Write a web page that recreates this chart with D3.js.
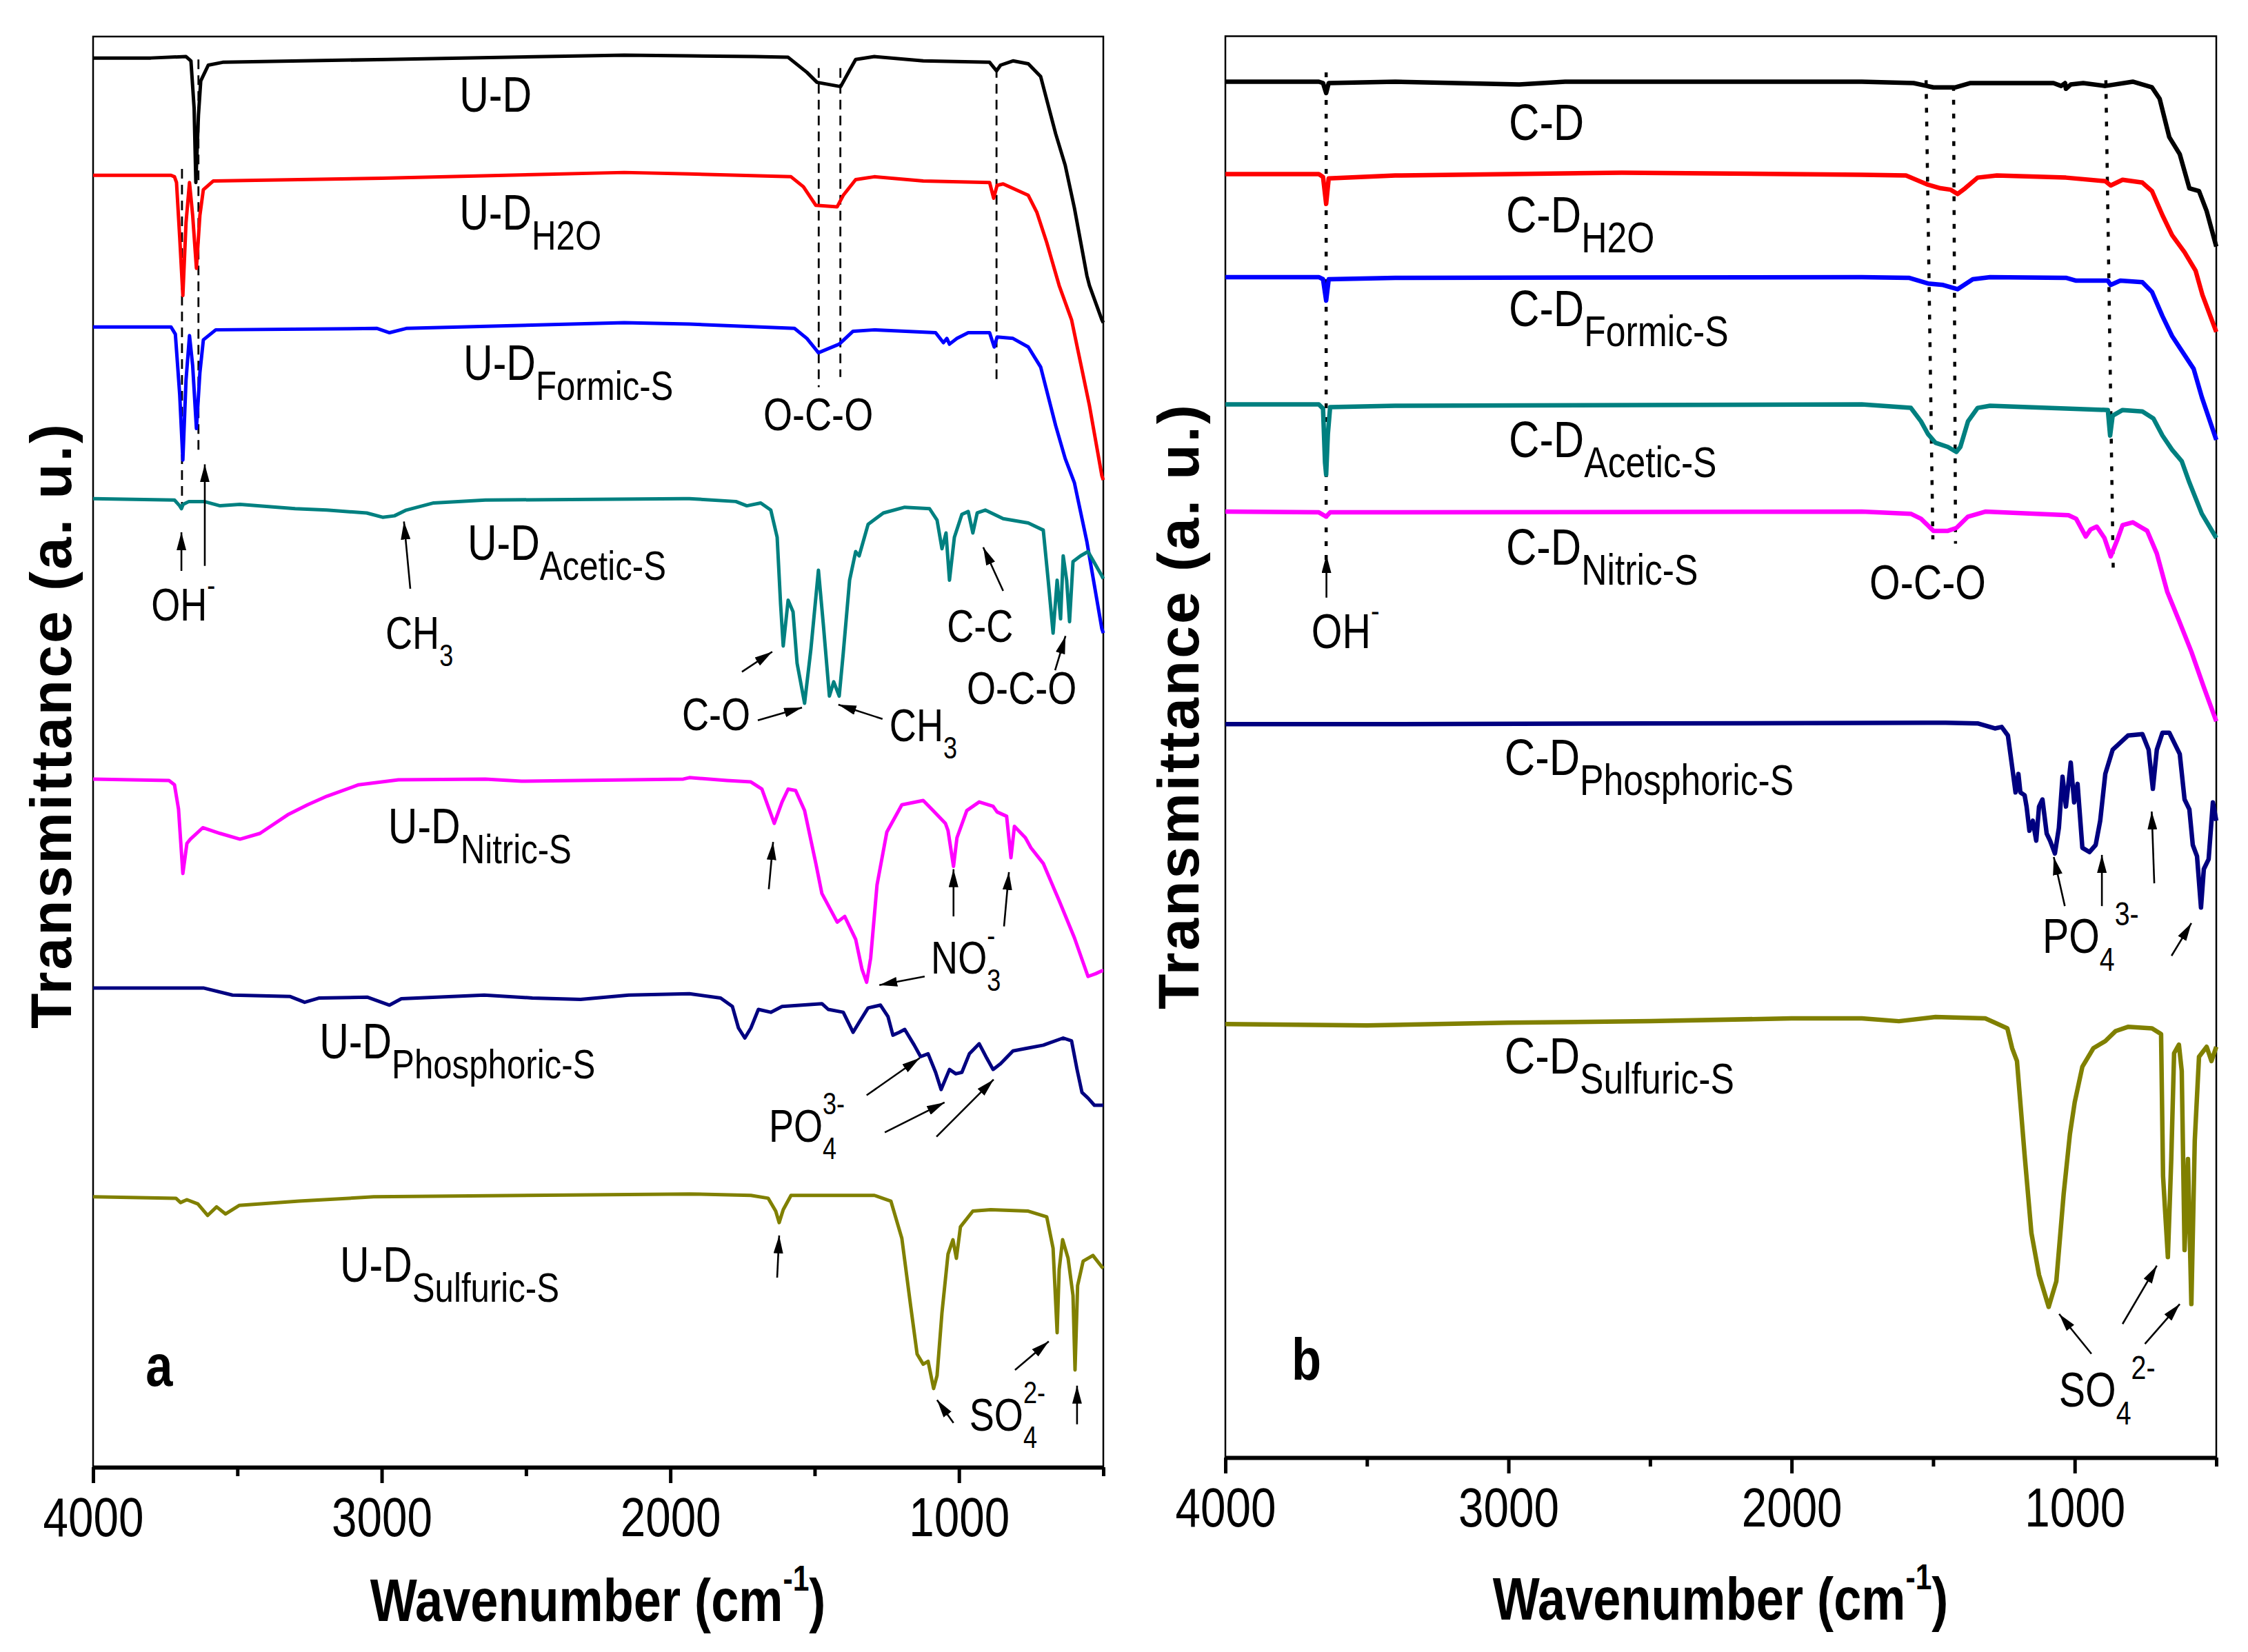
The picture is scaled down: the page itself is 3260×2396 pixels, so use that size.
<!DOCTYPE html>
<html>
<head>
<meta charset="utf-8">
<script src="https://cdn.jsdelivr.net/npm/d3@7"></script>
<style>
  body { margin: 0; background: #fff; }
</style>
</head>
<body>
<svg id="chart" width="3260" height="2396"></svg>
<script>
const FONT = '"Liberation Sans", Arial, sans-serif';
const NARROW = 0.82; // Arial Narrow look

const majorTicks = [4000, 3000, 2000, 1000];
const minorTicks = [3500, 2500, 1500, 500];
const seriesColors = ["#000000", "#ff0000", "#0000ff", "#008080", "#ff00ff", "#000080", "#808000"];
const subNames = ["", "H2O", "Formic-S", "Acetic-S", "Nitric-S", "Phosphoric-S", "Sulfuric-S"];

// ---- panel a : U-D samples, [wavenumber, transmittance a.u.] ----
const uDry = [[4000,98.5],[3800,98.5],[3678,98.6],[3661,98.3],[3650,95],[3644,89.8],[3635,94.5],[3627,96.9],[3601,98.0],[3551,98.2],[2982,98.4],[2160,98.7],[1934,98.65],[1709,98.6],[1592,98.55],[1527,97.5],[1492,96.8],[1410,96.5],[1380,97.6],[1358,98.4],[1293,98.6],[1124,98.3],[894,98.2],[870,97.6],[856,98.0],[813,98.3],[760,98.1],[717,97.2],[665,93.2],[632,91.0],[600,88.0],[557,83.3],[548,82.6],[505,80.2],[500,80.0]];
const uH2O = [[4000,90.3],[3730,90.3],[3718,90.2],[3711,89.8],[3700,86],[3689,81.9],[3678,87],[3666,89.8],[3655,87.5],[3642,83.8],[3630,87.5],[3618,89.3],[3584,89.9],[3000,90.1],[2160,90.5],[1934,90.4],[1582,90.2],[1539,89.5],[1496,88.2],[1422,88.1],[1401,88.9],[1358,90.0],[1293,90.2],[1124,89.9],[894,89.8],[880,88.7],[868,89.6],[847,89.7],[760,88.9],[730,87.7],[696,85.6],[653,82.6],[610,80.2],[579,77.2],[548,74.2],[505,69.3],[500,69.0]];
const uFormic = [[4000,79.7],[3730,79.7],[3715,79.2],[3700,75],[3689,70.4],[3678,76],[3666,79.1],[3655,77],[3642,72.6],[3630,76.5],[3618,78.8],[3575,79.5],[3016,79.6],[2973,79.3],[2915,79.6],[2160,80.0],[1934,79.9],[1570,79.6],[1527,78.9],[1487,77.9],[1415,78.5],[1367,79.4],[1293,79.5],[1081,79.3],[1054,78.6],[1042,78.9],[1033,78.5],[1007,78.9],[968,79.3],[894,79.3],[878,78.3],[868,79.0],[813,78.9],[760,78.3],[717,76.9],[665,72.8],[632,70.5],[600,68.8],[557,64.7],[505,58.6],[500,58.3]];
const uAcetic = [[4000,67.7],[3718,67.6],[3700,67.2],[3694,67.0],[3688,67.3],[3668,67.5],[3615,67.5],[3560,67.2],[3491,67.3],[3300,67.0],[3190,66.9],[3052,66.7],[2997,66.4],[2956,66.5],[2915,66.9],[2820,67.4],[2641,67.6],[1955,67.7],[1934,67.7],[1773,67.5],[1735,67.2],[1687,67.4],[1652,66.9],[1630,65.0],[1618,60.3],[1609,57.4],[1592,60.6],[1575,59.8],[1561,56.2],[1535,53.4],[1513,57.2],[1487,62.7],[1470,58.9],[1449,53.9],[1434,54.9],[1415,53.9],[1401,56.9],[1379,62.0],[1358,64.0],[1346,63.7],[1315,65.9],[1262,66.7],[1188,67.1],[1102,67.0],[1076,66.2],[1059,64.2],[1045,65.3],[1033,62.0],[1016,65.0],[990,66.6],[968,66.8],[952,65.3],[937,66.7],[909,66.9],[847,66.3],[760,66.0],[708,65.5],[691,62.0],[674,58.3],[660,62.0],[648,59.3],[639,63.7],[627,62.0],[617,59.1],[605,63.3],[579,63.7],[553,64.0],[505,62.3],[500,62.1]];
const uNitric = [[4000,48.1],[3737,48.0],[3718,47.7],[3704,46.0],[3689,41.5],[3675,43.6],[3663,43.9],[3620,44.7],[3560,44.3],[3491,43.9],[3422,44.3],[3326,45.6],[3257,46.3],[3190,46.9],[3080,47.7],[2942,48.05],[2641,48.1],[2516,47.95],[1955,48.1],[1934,48.2],[1804,48.0],[1721,47.9],[1683,47.4],[1640,45.0],[1613,46.5],[1592,47.4],[1566,47.3],[1535,45.9],[1496,42.2],[1475,40.1],[1422,38.1],[1396,38.5],[1358,36.9],[1336,34.8],[1320,33.9],[1306,35.6],[1284,40.7],[1250,44.4],[1198,46.3],[1124,46.6],[1090,45.9],[1047,45.0],[1038,44.5],[1019,42.0],[1007,44.0],[973,45.9],[930,46.5],[882,46.2],[868,45.8],[835,45.5],[820,42.6],[808,44.8],[770,44.0],[751,43.3],[708,42.2],[653,39.6],[600,37.0],[553,34.3],[526,34.5],[505,34.7],[500,34.7]];
const uPhosphoric = [[4000,33.5],[3618,33.5],[3517,33.0],[3317,32.9],[3267,32.5],[3216,32.8],[3049,32.85],[2973,32.3],[2932,32.75],[2645,33.0],[2478,32.8],[2311,32.7],[2144,33.0],[1934,33.1],[1826,32.8],[1785,32.2],[1764,30.7],[1742,30.0],[1721,30.7],[1695,32.0],[1652,31.8],[1613,32.2],[1475,32.4],[1453,32.0],[1401,31.8],[1367,30.4],[1346,31.1],[1315,32.1],[1272,32.3],[1246,31.5],[1229,30.2],[1207,30.4],[1188,30.6],[1155,29.5],[1133,28.7],[1107,28.9],[1081,27.6],[1062,26.4],[1033,27.8],[1011,27.5],[990,27.6],[964,28.9],[930,29.6],[904,28.6],[882,27.8],[856,28.2],[813,29.1],[760,29.3],[708,29.5],[639,30.0],[610,29.8],[591,27.8],[574,26.2],[553,25.8],[531,25.3],[500,25.3]];
const uSulfuric = [[4000,18.9],[3713,18.8],[3697,18.5],[3675,18.7],[3637,18.4],[3603,17.6],[3572,18.2],[3541,17.7],[3494,18.3],[3286,18.6],[3028,18.9],[1934,19.1],[1721,19.0],[1661,18.8],[1635,17.9],[1623,17.1],[1609,18.0],[1582,19.0],[1293,19.0],[1236,18.6],[1198,16.0],[1167,11.2],[1145,7.9],[1124,7.2],[1107,7.4],[1088,5.5],[1076,6.4],[1059,10.8],[1038,14.9],[1021,15.9],[1009,14.6],[995,16.8],[952,17.9],[890,18.0],[760,17.9],[696,17.5],[674,15.3],[660,9.4],[653,13.8],[641,15.9],[622,14.6],[605,12.0],[598,6.8],[589,12.7],[570,14.4],[536,14.8],[505,14.0],[500,13.9]];

// ---- panel b : C-D samples ----
const cDry = [[4000,96.8],[3670,96.8],[3655,96.7],[3644,96.0],[3635,96.7],[3400,96.8],[2962,96.6],[2800,96.8],[1752,96.8],[1569,96.7],[1499,96.4],[1421,96.4],[1370,96.7],[1075,96.7],[1048,96.5],[1034,96.7],[1031,96.3],[1014,96.6],[970,96.7],[892,96.5],[795,96.8],[727,96.4],[700,95.6],[666,92.9],[629,91.7],[595,89.3],[561,89.1],[534,87.7],[500,85.2]];
const cH2O = [[4000,90.3],[3670,90.3],[3655,90.1],[3644,88.2],[3635,90.0],[3400,90.2],[2600,90.4],[1752,90.25],[1596,90.2],[1518,89.55],[1474,89.3],[1438,89.2],[1414,88.9],[1387,89.3],[1343,90.05],[1275,90.2],[1031,90.05],[892,89.8],[873,89.5],[831,89.9],[761,89.7],[727,89.1],[690,87.4],[656,86.0],[612,84.8],[573,83.5],[549,81.8],[500,79.2]];
const cFormic = [[4000,83.05],[3670,83.05],[3655,82.9],[3644,81.4],[3635,82.9],[3400,83.0],[1752,83.05],[1586,83.0],[1518,82.6],[1465,82.5],[1414,82.2],[1360,82.9],[1299,83.05],[1031,83.0],[995,82.8],[883,82.8],[873,82.5],[839,82.8],[761,82.7],[727,82.0],[690,80.3],[656,78.9],[580,76.6],[551,74.6],[500,71.6]];
const cAcetic = [[4000,74.1],[3670,74.1],[3655,73.8],[3648,70],[3644,69.15],[3638,72],[3630,73.9],[3400,74.0],[1752,74.1],[1579,73.85],[1543,72.9],[1518,72.0],[1492,71.4],[1448,71.1],[1418,70.75],[1404,71.1],[1377,72.9],[1343,73.85],[1299,74.0],[883,73.7],[875,71.9],[866,73.3],[831,73.7],[761,73.6],[722,73.1],[690,71.9],[656,70.9],[622,70.1],[595,68.6],[551,66.4],[500,64.7]];
const cNitric = [[4000,66.55],[3670,66.5],[3644,66.2],[3630,66.5],[3400,66.5],[1752,66.55],[1579,66.4],[1543,66.05],[1499,65.2],[1448,65.2],[1418,65.4],[1377,66.2],[1316,66.55],[1022,66.3],[995,66.05],[961,64.8],[944,65.3],[922,65.5],[895,64.7],[873,63.4],[849,64.6],[831,65.6],[795,65.8],[744,65.2],[710,63.6],[673,60.9],[632,58.9],[588,56.7],[544,54.2],[500,51.8]];
const cPhosphoric = [[4000,51.6],[3400,51.6],[2500,51.65],[1457,51.7],[1343,51.65],[1282,51.3],[1258,51.4],[1236,50.8],[1221,48.6],[1209,46.8],[1199,48.1],[1192,46.8],[1177,46.6],[1170,45.8],[1160,44.1],[1148,44.8],[1136,43.4],[1126,45.8],[1114,46.3],[1099,43.9],[1087,43.4],[1070,42.5],[1056,44.3],[1043,47.9],[1031,45.8],[1014,48.9],[1002,46.1],[990,47.4],[973,42.9],[948,42.6],[926,43.1],[910,44.8],[892,48.1],[866,49.8],[812,50.8],[761,50.9],[739,49.8],[724,47.05],[710,49.8],[690,51.0],[666,51.0],[629,49.5],[612,46.3],[595,45.6],[583,43.1],[568,42.3],[554,38.7],[544,41.4],[527,42.1],[512,46.1],[500,44.8]];
const cSulfuric = [[4000,30.5],[3500,30.4],[3000,30.6],[2500,30.7],[2000,30.9],[1752,30.9],[1621,30.7],[1492,31.0],[1316,30.9],[1282,30.6],[1238,30.2],[1221,28.8],[1204,27.9],[1177,21.3],[1153,15.8],[1126,12.85],[1092,10.6],[1065,12.4],[1039,18.55],[1017,22.75],[1000,25.0],[973,27.5],[934,28.8],[892,29.3],[856,30.0],[812,30.3],[727,30.2],[695,29.8],[688,19.8],[671,14.1],[659,21.0],[649,28.45],[632,29.05],[622,27.2],[612,14.6],[600,21.0],[588,10.8],[576,22.3],[561,28.2],[534,28.9],[517,27.9],[500,28.9]];

// curve label anchors [wavenumber, a.u.]
const labelSpotsA = [[2731,94.75],[2731,86.5],[2717,76.0],[2703,63.4],[2978,43.6],[3216,28.6],[3145,12.96]];
const labelSpotsB = [[2999,92.7],[3009,86.2],[2999,79.6],[2999,70.4],[3009,62.8],[3014,48.0],[3014,27.0]];

// guide lines [wn1, t1, wn2, t2]
const guidesA = [[3692,90.75,3692,67.0],[3635,98.4,3635,70.7],[1486,97.8,1486,75.5],[1411,97.8,1411,76.2],[870,97.8,870,75.7]];
const guidesB = [[3644,97.45,3644,63.0],[1525,96.9,1501,64.6],[1428,96.5,1421,64.3],[890,96.9,864,62.5]];

// arrows tail -> head [wn1, t1, wn2, t2]
const arrowsA = [[3694,62.65,3694,65.35],[3613,63.0,3613,70.1],[2901,61.4,2923,66.1],[1752,55.6,1647,57.0],[1697,52.2,1544,53.1],[1265,52.3,1418,53.3],[847,61.25,916,64.3],[667,55.7,631,58.1],[1659,40.4,1644,43.7],[1119,34.3,1276,33.7],[1019,38.5,1019,41.8],[844,37.8,827,41.6],[1320,26.0,1136,28.6],[1257,23.4,1050,25.5],[1078,23.1,880,27.1],[1630,13.25,1623,16.2],[1019,3.1,1076,4.7],[806,6.8,689,8.8],[591,3.0,591,5.7]];
const arrowsB = [[3643,60.5,3643,63.5],[1035,38.8,1074,42.25],[904,38.8,904,42.4],[719,40.4,728,45.45],[658,35.3,588,37.6],[941,7.3,1055,10.1],[831,9.4,710,13.5],[752,8.0,629,10.8]];

// band assignments
const notesA = [
  {main: "OH", sup: "-", at: [3799, 59.2]},
  {main: "CH", sub: "3", at: [2987, 57.2]},
  {main: "O-C-O", at: [1678, 72.5]},
  {main: "C-O", at: [1960, 51.5]},
  {main: "CH", sub: "3", at: [1241, 50.75]},
  {main: "C-C", at: [1042, 57.7]},
  {main: "O-C-O", at: [973, 53.35]},
  {main: "NO", sub: "3", sup: "-", at: [1097, 34.5]},
  {main: "PO", sub: "4", sup: "3-", at: [1659, 22.75]},
  {main: "SO", sub: "4", sup: "2-", at: [964, 2.55]}
];
const notesB = [
  {main: "OH", sup: "-", at: [3696, 56.95]},
  {main: "O-C-O", at: [1725, 60.4]},
  {main: "PO", sub: "4", sup: "3-", at: [1114, 35.5]},
  {main: "SO", sub: "4", sup: "2-", at: [1056, 3.6]}
];

const svg = d3.select("#chart");
svg.append("rect").attr("width", 3260).attr("height", 2396).attr("fill", "#fff");

svg.append("defs").append("marker")
    .attr("id", "ah")
    .attr("markerUnits", "userSpaceOnUse")
    .attr("viewBox", "0 0 26 14")
    .attr("markerWidth", 26).attr("markerHeight", 14)
    .attr("refX", 26).attr("refY", 7)
    .attr("orient", "auto")
  .append("path").attr("d", "M0,0 L26,7 L0,14 Z").attr("fill", "#000");

// narrow text with optional subscript / superscript
function label(px, py, main, sub, sup, o) {
    const g = svg.append("g").attr("transform", `translate(${px},${py}) scale(${NARROW},1)`);
    const txt = () => g.append("text").attr("font-family", FONT)
        .attr("font-weight", o.bold ? "bold" : "normal").attr("fill", "#000");
    const t0 = txt().attr("font-size", o.size).text(main);
    const w0 = t0.node().getComputedTextLength();
    let w1 = 0;
    if (sub) {
        const t1 = txt().attr("x", w0).attr("y", o.subDy).attr("font-size", o.subSize).text(sub);
        w1 = t1.node().getComputedTextLength();
    }
    if (sup) {
        txt().attr("x", o.stacked ? w0 : w0 + w1).attr("y", o.supDy).attr("font-size", o.supSize).text(sup);
    }
}

function drawPanel(p) {
    const x = d3.scaleLinear().domain([4000, 500]).range([p.left, p.right]);
    const y = d3.scaleLinear().domain([0, 100]).range([p.bottom, p.top]);

    // frame
    svg.append("rect")
        .attr("x", p.left).attr("y", p.top)
        .attr("width", p.right - p.left).attr("height", p.bottom - p.top)
        .attr("fill", "none").attr("stroke", "#000").attr("stroke-width", 2.5);

    // guides
    svg.append("g").selectAll("line").data(p.guides).enter().append("line")
        .attr("x1", d => x(d[0])).attr("y1", d => y(d[1]))
        .attr("x2", d => x(d[2])).attr("y2", d => y(d[3]))
        .attr("stroke", "#000").attr("stroke-width", p.guideWidth)
        .attr("stroke-dasharray", p.dash);

    // spectra
    const line = d3.line().x(d => x(d[0])).y(d => y(d[1]));
    svg.append("g").selectAll("path").data(p.curves).enter().append("path")
        .attr("d", d => line(d))
        .attr("fill", "none")
        .attr("stroke", (d, i) => seriesColors[i])
        .attr("stroke-width", p.lineWidth)
        .attr("stroke-linejoin", "round");

    // arrows
    svg.append("g").selectAll("line").data(p.arrows).enter().append("line")
        .attr("x1", d => x(d[0])).attr("y1", d => y(d[1]))
        .attr("x2", d => x(d[2])).attr("y2", d => y(d[3]))
        .attr("stroke", "#000").attr("stroke-width", 2.6)
        .attr("marker-end", "url(#ah)");

    // x axis
    const major = d3.axisBottom(x).tickValues(majorTicks).tickSize(23).tickSizeOuter(0)
        .tickPadding(20).tickFormat(d3.format("d"));
    const gx = svg.append("g").attr("transform", `translate(0,${p.bottom})`).call(major);
    gx.select(".domain").attr("stroke-width", 6);
    gx.selectAll(".tick line").attr("stroke-width", 5);
    gx.selectAll(".tick text")
        .attr("font-family", FONT).attr("font-size", 80).attr("fill", "#000")
        .attr("transform", `scale(${NARROW},1)`);
    const minor = d3.axisBottom(x).tickValues(minorTicks).tickSize(13).tickSizeOuter(0).tickFormat("");
    const gm = svg.append("g").attr("transform", `translate(0,${p.bottom})`).call(minor);
    gm.select(".domain").remove();
    gm.selectAll(".tick line").attr("stroke-width", 5);

    // x title
    const xt = svg.append("g").attr("transform", `translate(${p.xTitle[0]},${p.xTitle[1]}) scale(${NARROW},1)`)
        .append("text").attr("text-anchor", "middle")
        .attr("font-family", FONT).attr("font-weight", "bold").attr("font-size", 88);
    xt.append("tspan").text("Wavenumber (cm");
    xt.append("tspan").attr("font-size", 52).attr("dy", -44).text("-1");
    xt.append("tspan").attr("dy", 44).text(")");

    // y title
    svg.append("text")
        .attr("transform", `translate(${p.yTitle[0]},${p.yTitle[1]}) rotate(-90)`)
        .attr("text-anchor", "middle")
        .attr("font-family", FONT).attr("font-weight", "bold").attr("font-size", 84)
        .attr("letter-spacing", 3)
        .text("Transmittance (a. u.)");

    // curve labels
    p.labelSpots.forEach((s, i) => {
        label(x(s[0]), y(s[1]), p.prefix, subNames[i], null,
              {size: p.labelSize, subSize: p.labelSubSize, subDy: 29});
    });

    // band notes
    p.notes.forEach(n => {
        label(x(n.at[0]), y(n.at[1]), n.main, n.sub, n.sup, p.noteStyle(n));
    });

    // panel letter
    label(x(p.letterAt[0]), y(p.letterAt[1]), p.letter, null, null, {size: 86, bold: true});
}

drawPanel({
    left: 135, right: 1600, top: 53, bottom: 2128,
    curves: [uDry, uH2O, uFormic, uAcetic, uNitric, uPhosphoric, uSulfuric],
    guides: guidesA, dash: "14,9", guideWidth: 2.8,
    arrows: arrowsA, lineWidth: 5,
    xTitle: [867, 2351], yTitle: [103, 1052],
    prefix: "U-D", labelSpots: labelSpotsA, labelSize: 72, labelSubSize: 60,
    notes: notesA,
    noteStyle: n => n.main === "OH"
        ? {size: 66, supSize: 44, supDy: -36}
        : {size: 66, subSize: 44, subDy: 25, supSize: 44, supDy: -40, stacked: true},
    letter: "a", letterAt: [3818, 5.7]
});

drawPanel({
    left: 1777, right: 3214, top: 52.5, bottom: 2114,
    curves: [cDry, cH2O, cFormic, cAcetic, cNitric, cPhosphoric, cSulfuric],
    guides: guidesB, dash: "7,13", guideWidth: 4.5,
    arrows: arrowsB, lineWidth: 6.5,
    xTitle: [2495, 2349], yTitle: [1738, 1024],
    prefix: "C-D", labelSpots: labelSpotsB, labelSize: 75, labelSubSize: 63,
    notes: notesB,
    noteStyle: n => n.main === "OH"
        ? {size: 70, supSize: 46, supDy: -38}
        : {size: 70, subSize: 48, subDy: 26, supSize: 48, supDy: -40, stacked: false},
    letter: "b", letterAt: [3766, 5.5]
});
</script>
</body>
</html>
